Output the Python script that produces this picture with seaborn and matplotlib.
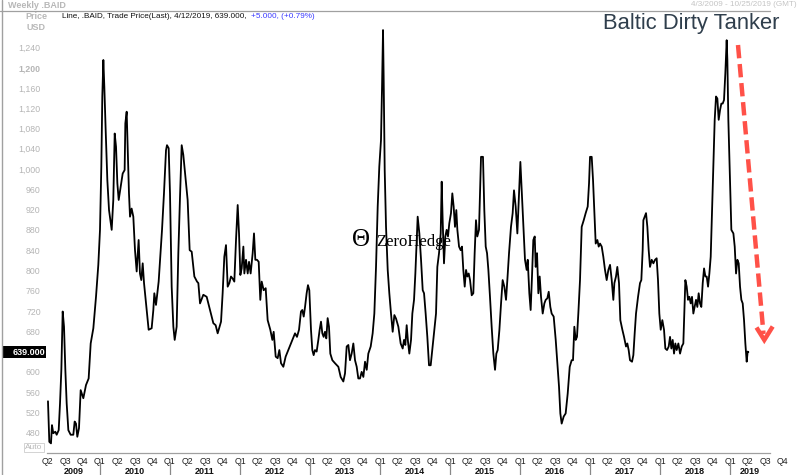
import numpy as np
import pandas as pd
import matplotlib
matplotlib.use("Agg")
import matplotlib.pyplot as plt
import matplotlib.transforms as mtransforms
from matplotlib.lines import Line2D
from matplotlib.patches import Rectangle
import seaborn as sns

# ---------------- data (decimal year, index value) ----------------
t_2009_2011 = [2009.257, 2009.276, 2009.300, 2009.314, 2009.333, 2009.362, 2009.381, 2009.410, 2009.429, 2009.448,
               2009.467, 2009.486, 2009.505, 2009.524, 2009.548, 2009.581, 2009.619, 2009.638, 2009.657, 2009.676,
               2009.700, 2009.724, 2009.762, 2009.800, 2009.838, 2009.867, 2009.905, 2009.943, 2009.976, 2010.000,
               2010.019, 2010.033, 2010.048, 2010.062, 2010.081, 2010.105, 2010.129, 2010.167, 2010.190, 2010.210,
               2010.229, 2010.248, 2010.267, 2010.295, 2010.324, 2010.352, 2010.362, 2010.381, 2010.395, 2010.414,
               2010.429, 2010.452, 2010.476, 2010.500, 2010.524, 2010.552, 2010.571, 2010.590, 2010.610, 2010.629,
               2010.667, 2010.695, 2010.738, 2010.762, 2010.776, 2010.800, 2010.838, 2010.867, 2010.886, 2010.914,
               2010.943, 2010.957, 2010.981, 2011.000, 2011.024, 2011.048, 2011.067, 2011.095, 2011.119, 2011.143,
               2011.167, 2011.190]
v_2009_2011 = [542, 462, 459, 495, 479, 482, 476, 485, 538, 604,
               719, 689, 604, 538, 485, 476, 476, 502, 498, 472,
               489, 564, 548, 574, 587, 656, 686, 748, 811, 880,
               1005, 1143, 1215, 1162, 1077, 978, 919, 880, 939, 1070,
               1044, 972, 939, 965, 991, 998, 1090, 1113, 1044, 952,
               906, 922, 906, 840, 798, 860, 794, 781, 814, 775,
               722, 683, 686, 722, 755, 732, 778, 840, 880, 952,
               1037, 1047, 1041, 952, 768, 689, 663, 689, 834, 945,
               1047, 1028]

t_2011_2013 = [2011.252, 2011.281, 2011.310, 2011.348, 2011.386, 2011.405, 2011.429, 2011.476, 2011.524, 2011.571,
               2011.619, 2011.652, 2011.681, 2011.729, 2011.752, 2011.776, 2011.800, 2011.824, 2011.848, 2011.871,
               2011.895, 2011.919, 2011.943, 2011.967, 2011.986, 2012.005, 2012.024, 2012.048, 2012.062, 2012.086,
               2012.110, 2012.129, 2012.152, 2012.181, 2012.200, 2012.219, 2012.243, 2012.267, 2012.290, 2012.310,
               2012.338, 2012.367, 2012.395, 2012.433, 2012.462, 2012.481, 2012.510, 2012.538, 2012.562, 2012.586,
               2012.619, 2012.652, 2012.690, 2012.729, 2012.757, 2012.786, 2012.814, 2012.843, 2012.871, 2012.890,
               2012.910, 2012.929, 2012.952, 2012.971, 2012.990, 2013.014, 2013.033, 2013.052, 2013.071, 2013.095,
               2013.119, 2013.138, 2013.157, 2013.176, 2013.195, 2013.214, 2013.233, 2013.252, 2013.271, 2013.290,
               2013.319]
v_2011_2013 = [939, 840, 837, 788, 778, 775, 735, 752, 748, 722,
               696, 692, 676, 699, 755, 827, 850, 768, 775, 788,
               784, 778, 860, 929, 873, 791, 804, 847, 794, 821,
               794, 817, 794, 834, 873, 821, 821, 817, 742, 778,
               761, 765, 702, 683, 663, 679, 630, 627, 643, 617,
               610, 630, 643, 656, 666, 676, 669, 683, 719, 722,
               709, 728, 755, 771, 761, 683, 643, 633, 643, 640,
               663, 683, 699, 676, 669, 679, 666, 706, 689, 636,
               623]

t_2013_2015 = [2013.357, 2013.405, 2013.438, 2013.476, 2013.500, 2013.524, 2013.548, 2013.571, 2013.595, 2013.619,
               2013.643, 2013.667, 2013.690, 2013.714, 2013.738, 2013.762, 2013.786, 2013.810, 2013.833, 2013.867,
               2013.895, 2013.919, 2013.943, 2013.967, 2013.990, 2014.014, 2014.029, 2014.043, 2014.052, 2014.067,
               2014.086, 2014.110, 2014.133, 2014.157, 2014.181, 2014.205, 2014.229, 2014.262, 2014.295, 2014.324,
               2014.343, 2014.362, 2014.381, 2014.400, 2014.419, 2014.443, 2014.462, 2014.486, 2014.505, 2014.524,
               2014.538, 2014.562, 2014.586, 2014.610, 2014.629, 2014.652, 2014.676, 2014.700, 2014.724, 2014.748,
               2014.771, 2014.800, 2014.819, 2014.843, 2014.867, 2014.881, 2014.895, 2014.914, 2014.933, 2014.952,
               2014.971, 2014.990, 2015.014, 2015.033, 2015.052, 2015.071, 2015.090, 2015.105, 2015.129, 2015.152,
               2015.171, 2015.190, 2015.210, 2015.229, 2015.248, 2015.267, 2015.286, 2015.310, 2015.333, 2015.352,
               2015.371, 2015.390, 2015.414]
v_2013_2015 = [617, 610, 590, 581, 597, 650, 653, 623, 636, 656,
               623, 610, 587, 587, 600, 590, 620, 604, 636, 650,
               676, 715, 807, 926, 1005, 1057, 1162, 1274, 1182, 998,
               886, 801, 755, 715, 679, 712, 705, 689, 656, 646,
               663, 653, 692, 659, 636, 663, 715, 742, 794, 860,
               906, 873, 821, 761, 755, 715, 669, 613, 613, 646,
               676, 715, 807, 834, 873, 975, 899, 814, 867, 880,
               867, 893, 913, 952, 926, 886, 919, 880, 847, 840,
               847, 801, 768, 801, 788, 794, 781, 751, 755, 834,
               899, 867, 880]

t_2015_2017 = [2015.443, 2015.471, 2015.490, 2015.510, 2015.529, 2015.548, 2015.571, 2015.595, 2015.619, 2015.643,
               2015.662, 2015.681, 2015.705, 2015.729, 2015.752, 2015.776, 2015.800, 2015.819, 2015.843, 2015.871,
               2015.895, 2015.914, 2015.938, 2015.962, 2015.986, 2016.005, 2016.024, 2016.048, 2016.071, 2016.095,
               2016.110, 2016.133, 2016.152, 2016.171, 2016.190, 2016.210, 2016.224, 2016.243, 2016.262, 2016.281,
               2016.300, 2016.324, 2016.348, 2016.367, 2016.390, 2016.410, 2016.433, 2016.452, 2016.481, 2016.510,
               2016.533, 2016.557, 2016.576, 2016.595, 2016.624, 2016.652, 2016.681, 2016.710, 2016.738, 2016.757,
               2016.776, 2016.795, 2016.814, 2016.833, 2016.857, 2016.881, 2016.910, 2016.938, 2016.967, 2016.986,
               2017.000, 2017.024, 2017.043, 2017.062, 2017.081, 2017.105, 2017.124, 2017.143, 2017.167, 2017.190,
               2017.214, 2017.238, 2017.262, 2017.286, 2017.310, 2017.333, 2017.348, 2017.371, 2017.390, 2017.414,
               2017.433, 2017.462]
v_2015_2017 = [1024, 1024, 919, 847, 834, 801, 748, 689, 636, 604,
               636, 643, 682, 735, 781, 768, 742, 781, 834, 886,
               913, 958, 926, 873, 952, 1014, 958, 886, 821, 801,
               821, 755, 722, 788, 860, 867, 807, 834, 755, 788,
               748, 715, 735, 742, 745, 758, 728, 715, 709, 663,
               617, 571, 518, 498, 512, 518, 557, 610, 623, 623,
               689, 663, 669, 715, 781, 886, 899, 913, 926, 972,
               1024, 1024, 978, 913, 853, 860, 847, 853, 847, 827,
               801, 781, 801, 811, 781, 742, 775, 788, 807, 775,
               702, 683]

t_2017_2019 = [2017.486, 2017.514, 2017.533, 2017.552, 2017.571, 2017.600, 2017.619, 2017.638, 2017.657,
               2017.686, 2017.714, 2017.733, 2017.752, 2017.762, 2017.781, 2017.800, 2017.819, 2017.838, 2017.857,
               2017.881, 2017.905, 2017.929, 2017.952, 2017.971, 2017.990, 2018.010, 2018.033, 2018.057, 2018.076,
               2018.100, 2018.124, 2018.143, 2018.162, 2018.181, 2018.200, 2018.219, 2018.238, 2018.262, 2018.286,
               2018.310, 2018.333, 2018.362, 2018.381, 2018.400, 2018.419, 2018.438, 2018.457, 2018.476, 2018.495,
               2018.514, 2018.533, 2018.552, 2018.571, 2018.590, 2018.610, 2018.629, 2018.648, 2018.667, 2018.686,
               2018.705, 2018.724, 2018.743, 2018.762, 2018.781, 2018.800, 2018.819, 2018.838, 2018.857, 2018.876,
               2018.895, 2018.914, 2018.933, 2018.952, 2018.962, 2018.976, 2019.000, 2019.019, 2019.048, 2019.067,
               2019.086, 2019.105, 2019.124, 2019.143, 2019.162, 2019.181, 2019.200, 2019.219, 2019.238, 2019.252,
               2019.262]
v_2017_2019 = [669, 650, 656, 643, 623, 620, 633, 676, 715,
               748, 775, 781, 840, 899, 906, 913, 886, 840, 807,
               821, 814, 821, 824, 781, 715, 683, 702, 683, 646,
               643, 650, 669, 646, 663, 636, 656, 643, 656, 636,
               650, 656, 781, 768, 742, 748, 735, 748, 715, 728,
               742, 728, 755, 735, 728, 775, 804, 788, 788, 768,
               794, 827, 919, 1018, 1097, 1143, 1139, 1097, 1116, 1129,
               1129, 1136, 1189, 1254, 1215, 1097, 978, 880, 873, 847,
               794, 821, 814, 768, 742, 735, 702, 656, 620, 640,
               639]

y_ticks = list(range(480, 1241, 40))
years = list(range(2009, 2020))
last_value = 639.000

# ---------------- figure ----------------
sns.set_style("white")
plt.rcParams["font.family"] = ["Liberation Sans", "DejaVu Sans"]

W, H = 800, 475
fig = plt.figure(figsize=(8, 4.75), dpi=100)
fig.patch.set_facecolor("white")


def fx(px):
    return px / W


def fy(py):
    return 1 - py / H


AX_L, AX_R, AX_T, AX_B = 47, 770, 11, 453
ax = fig.add_axes([fx(AX_L), fy(AX_B), (AX_R - AX_L) / W, (AX_B - AX_T) / H])

df = pd.DataFrame({
    "t": np.concatenate([t_2009_2011, t_2011_2013, t_2013_2015, t_2015_2017, t_2017_2019]),
    "v": np.concatenate([v_2009_2011, v_2011_2013, v_2013_2015, v_2015_2017, v_2017_2019]),
})
sns.lineplot(data=df, x="t", y="v", ax=ax, color="black", lw=1.3, sort=False, estimator=None)

ax.set_xlim(2009.243, 2019.571)
ax.set_ylim(440, 1311.6)
ax.set_xlabel("")
ax.set_ylabel("")

for s in ["top", "right", "left"]:
    ax.spines[s].set_visible(False)
ax.spines["bottom"].set_color("#a0a0a0")
ax.spines["bottom"].set_linewidth(0.9)

# y ticks (the 640 label is hidden under the last-value box in the original)
ax.set_yticks(y_ticks)
ax.set_yticklabels(["" if v == 640 else f"{v:,}" for v in y_ticks])
ax.tick_params(axis="y", labelsize=6.3, labelcolor="#b5b5b5", color="#b5b5b5",
               length=2.5, width=0.8, pad=2, direction="out")
for lab in ax.get_yticklabels():
    if lab.get_text() == "1,200":
        lab.set_fontweight("bold")

# x ticks (quarters)
q_pos = [2009.25 + 0.25 * i for i in range(42)]
q_lab = [f"Q{int(round((p % 1) * 4)) + 1}" for p in q_pos]
ax.set_xticks(q_pos)
ax.set_xticklabels(q_lab)
ax.tick_params(axis="x", labelsize=6.3, labelcolor="#222222", color="#888888",
               length=2, width=0.8, pad=1, direction="out")

xtr = ax.get_xaxis_transform()
ax_h = AX_B - AX_T


def ay(py):
    return (AX_B - py) / ax_h


ax.text(2019.75, ay(461.5), "Q4", transform=xtr, ha="center", va="center",
        fontsize=6.3, color="#222222", clip_on=False)

# year labels + separators
for y in years:
    if y == 2009:
        xc = (2009.25 + 2010) / 2
    elif y == 2019:
        xc = (2019.0 + 2019.571) / 2
    else:
        xc = y + 0.5
    ax.text(xc, ay(471.5), str(y), transform=xtr, ha="center", va="center",
            fontsize=6.5, fontweight="bold", color="#111111", clip_on=False)
    if y >= 2010:
        ax.add_line(Line2D([y, y], [ay(462), ay(476)], transform=xtr, color="#888888",
                           lw=0.9, clip_on=False))

# last value box
blend = mtransforms.blended_transform_factory(fig.transFigure, ax.transData)
ax.add_patch(Rectangle((fx(2), last_value - 11.8), fx(46) - fx(2), 23.6, transform=blend,
                       facecolor="black", edgecolor="none", clip_on=False, zorder=5))
ax.text(fx(45.5), last_value, f"{last_value:.3f}", transform=blend, ha="right", va="center",
        color="white", fontsize=6.5, fontweight="bold", clip_on=False, zorder=6)

# frame lines
fig.add_artist(Line2D([0, fx(770)], [fy(11), fy(11)], color="#a0a0a0", lw=0.9))
fig.add_artist(Line2D([fx(2), fx(2)], [0, 1], color="#a0a0a0", lw=1.0))

# header texts
fig.text(fx(8), fy(5.5), "Weekly .BAID", fontsize=6.5, fontweight="bold", color="#b8b8b8",
         ha="left", va="center")
fig.text(fx(36), fy(16.5), "Price", fontsize=6.5, fontweight="bold", color="#b8b8b8",
         ha="center", va="center")
fig.text(fx(36), fy(27.5), "USD", fontsize=6.5, fontweight="bold", color="#b8b8b8",
         ha="center", va="center")
fig.text(fx(62), fy(17), "Line, .BAID, Trade Price(Last), 4/12/2019, 639.000,", fontsize=5.9,
         color="#111111", ha="left", va="center")
fig.text(fx(251), fy(17), "+5.000, (+0.79%)", fontsize=5.9, color="#3a3aff",
         ha="left", va="center")
fig.text(fx(797), fy(5), "4/3/2009 - 10/25/2019 (GMT)", fontsize=5.9, color="#c4c4c4",
         ha="right", va="center")
fig.text(fx(34), fy(447.5), "Auto", fontsize=6, color="#b8b8b8", ha="center", va="center",
         bbox=dict(boxstyle="square,pad=0.15", facecolor="white", edgecolor="#cccccc", lw=0.6))

# title
fig.text(fx(603), fy(24), "Baltic Dirty Tanker", fontsize=15.8, color="#2f3e4c",
         ha="left", va="center")

# watermark
fig.text(fx(361), fy(240), "\u0398", fontsize=18, family="Liberation Serif", color="black",
         ha="center", va="center")
fig.text(fx(376), fy(242), "ZeroHedge", fontsize=12, family="Liberation Serif", color="black",
         ha="left", va="center")

# red dashed arrow
red = "#ff5148"
fig.add_artist(Line2D([fx(738), fx(763.5)], [fy(45), fy(334)], color=red, lw=3.2,
                      linestyle=(0, (3.0, 1.3)), solid_capstyle="butt", dash_capstyle="butt"))
fig.add_artist(Line2D([fx(756.5), fx(764.3), fx(772.7)], [fy(327.5), fy(340), fy(326.5)],
                      color=red, lw=3.2, solid_joinstyle="miter", solid_capstyle="butt"))

fig.savefig("out.png", dpi=100, facecolor="white")
